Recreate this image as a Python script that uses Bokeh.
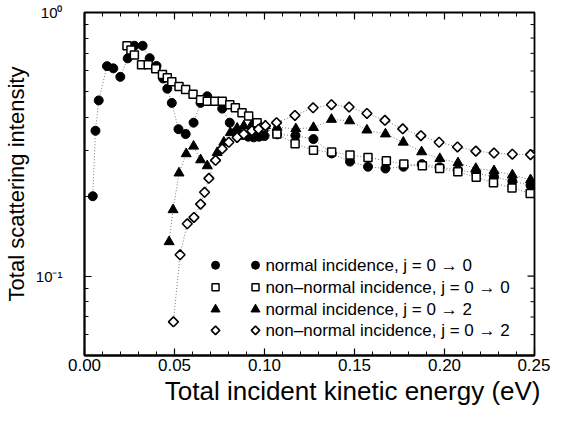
import math
from bokeh.plotting import figure
from bokeh.models import Range1d, FixedTicker, NumeralTickFormatter, Title
from bokeh.core.properties import value
from bokeh.embed import file_html
from bokeh.resources import INLINE

# ---------------- data ----------------
# normal incidence, j = 0 -> 0  (filled circles)
x_n00 = [0.0046, 0.0061, 0.0079, 0.0125, 0.0160, 0.0199, 0.0240, 0.0277, 0.0323, 0.0362,
         0.0400, 0.0437, 0.0460, 0.0485, 0.0522, 0.0562, 0.0606, 0.0645, 0.0682, 0.0765,
         0.0807, 0.0840, 0.0880, 0.0910, 0.0940, 0.0970, 0.1000, 0.1070, 0.1172, 0.1272,
         0.1373, 0.1475, 0.1575, 0.1672, 0.1772, 0.1874, 0.1973, 0.2074, 0.2176, 0.2275,
         0.2377, 0.2478]
y_n00 = [0.201, 0.356, 0.464, 0.626, 0.614, 0.570, 0.670, 0.748, 0.748, 0.671,
         0.627, 0.562, 0.514, 0.454, 0.361, 0.346, 0.382, 0.454, 0.481, 0.432,
         0.382, 0.352, 0.343, 0.338, 0.336, 0.338, 0.340, 0.345, 0.341, 0.331,
         0.292, 0.272, 0.260, 0.256, 0.260, 0.266, 0.259, 0.253, 0.246, 0.238,
         0.229, 0.221]

# non-normal incidence, j = 0 -> 0  (open squares)
x_nn00 = [0.0236, 0.0258, 0.0277, 0.0317, 0.0354, 0.0396, 0.0433, 0.0460, 0.0485, 0.0525,
          0.0562, 0.0603, 0.0645, 0.0682, 0.0724, 0.0765, 0.0807, 0.0838, 0.0875, 0.0912,
          0.0959, 0.0996, 0.1069, 0.1170, 0.1272, 0.1373, 0.1475, 0.1575, 0.1677, 0.1774,
          0.1877, 0.1973, 0.2074, 0.2176, 0.2272, 0.2375, 0.2476]
y_nn00 = [0.748, 0.720, 0.690, 0.634, 0.634, 0.612, 0.582, 0.565, 0.546, 0.524,
          0.510, 0.490, 0.467, 0.461, 0.461, 0.461, 0.447, 0.435, 0.417, 0.405,
          0.382, 0.366, 0.346, 0.318, 0.300, 0.296, 0.288, 0.282, 0.274, 0.266,
          0.262, 0.256, 0.249, 0.237, 0.226, 0.216, 0.206]

# normal incidence, j = 0 -> 2  (filled triangles)
x_n02 = [0.0470, 0.0492, 0.0525, 0.0565, 0.0606, 0.0645, 0.0682, 0.0737, 0.0774, 0.0810,
         0.0848, 0.0885, 0.0930, 0.0970, 0.1005, 0.1070, 0.1174, 0.1272, 0.1372, 0.1473,
         0.1569, 0.1672, 0.1771, 0.1873, 0.1974, 0.2075, 0.2174, 0.2275, 0.2377, 0.2478]
y_n02 = [0.135, 0.1785, 0.246, 0.291, 0.311, 0.276, 0.262, 0.294, 0.322, 0.350,
         0.364, 0.371, 0.376, 0.376, 0.372, 0.367, 0.362, 0.366, 0.393, 0.388,
         0.358, 0.346, 0.322, 0.296, 0.279, 0.269, 0.256, 0.251, 0.242, 0.232]

# non-normal incidence, j = 0 -> 2  (open diamonds)
x_nn02 = [0.0494, 0.0531, 0.0571, 0.0608, 0.0645, 0.0667, 0.0691, 0.0728, 0.0765, 0.0802,
          0.0848, 0.0885, 0.0930, 0.0967, 0.1005, 0.1067, 0.1169, 0.1270, 0.1372, 0.1470,
          0.1569, 0.1669, 0.1768, 0.1869, 0.1970, 0.2072, 0.2174, 0.2275, 0.2377, 0.2478]
y_nn02 = [0.0671, 0.1205, 0.158, 0.167, 0.1875, 0.208, 0.235, 0.275, 0.304, 0.322,
          0.336, 0.346, 0.356, 0.361, 0.372, 0.382, 0.407, 0.435, 0.447, 0.438,
          0.414, 0.390, 0.362, 0.341, 0.322, 0.309, 0.298, 0.293, 0.290, 0.289]

legend_labels = ["normal incidence, j = 0 \u2192 0",
                 "non\u2013normal incidence, j = 0 \u2192 0",
                 "normal incidence, j = 0 \u2192 2",
                 "non\u2013normal incidence, j = 0 \u2192 2"]

x_major_ticks = [0.0, 0.05, 0.10, 0.15, 0.20, 0.25]
x_minor_ticks = [0.01, 0.02, 0.03, 0.04, 0.06, 0.07, 0.08, 0.09, 0.11, 0.12, 0.13, 0.14,
                 0.16, 0.17, 0.18, 0.19, 0.21, 0.22, 0.23, 0.24]
y_major_ticks = [0.1, 1.0]
y_minor_ticks = [0.05, 0.06, 0.07, 0.08, 0.09, 0.2, 0.3, 0.4, 0.5, 0.6, 0.7, 0.8, 0.9]
y_tick_labels = {0.1: "10\u207b\u00b9", 1.0: "10\u2070"}
x_title = "Total incident kinetic energy (eV)"
y_title = "Total scattering intensity"

# ---------------- layout ----------------
FONT = "Liberation Sans"
W, H = 550, 405
BL, BR, BT, BB = 82, 16, 12, 47
X0, X1 = 0.0, 0.25
Y0, Y1 = 0.05, 1.0
MAJ_LEN, MIN_LEN = 7, 4
EST_FRAME_W = W - BL - BR
EST_FRAME_H = H - BT - 51
DECADE_PX = EST_FRAME_H / math.log10(Y1 / Y0)

LEG_X1, LEG_X2, LEG_TX = 0.0728, 0.0950, 0.1005
LEG_ROW_PX = [252, 274, 296, 317]   # pixels below the frame top


def y_at_px_below_top(n):
    return Y1 * 10 ** (-n / DECADE_PX)


def x_at_px_left_of_right(n):
    return X1 - n * (X1 - X0) / EST_FRAME_W


p = figure(width=W, height=H, x_range=Range1d(X0, X1), y_range=Range1d(Y0, Y1),
           y_axis_type="log", output_backend="svg", toolbar_location=None,
           min_border_left=BL, min_border_right=BR, min_border_top=BT, min_border_bottom=BB)
p.background_fill_color = "white"
p.border_fill_color = "white"
p.outline_line_color = "black"
p.outline_line_width = 1.8
p.grid.visible = False

x_ticker = FixedTicker(ticks=x_major_ticks, minor_ticks=x_minor_ticks)
y_ticker = FixedTicker(ticks=y_major_ticks, minor_ticks=y_minor_ticks)


def style_axis(ax):
    ax.axis_line_color = "black"
    ax.axis_line_width = 1.8
    ax.major_tick_in = MAJ_LEN
    ax.major_tick_out = 0
    ax.minor_tick_in = MIN_LEN
    ax.minor_tick_out = 0
    ax.major_tick_line_width = 1.2
    ax.minor_tick_line_width = 1.0
    ax.major_tick_line_color = "black"
    ax.minor_tick_line_color = "black"


xa = p.xaxis[0]
xa.ticker = x_ticker
xa.formatter = NumeralTickFormatter(format="0.00")
style_axis(xa)
xa.major_label_text_font = FONT
xa.major_label_text_font_size = "17px"
xa.major_label_text_color = "black"
xa.major_label_standoff = 3

ya = p.yaxis[0]
ya.ticker = y_ticker
style_axis(ya)
ya.major_label_overrides = y_tick_labels
ya.major_label_text_font = FONT
ya.major_label_text_font_size = "15px"
ya.major_label_text_color = "black"
ya.major_label_standoff = 22
ya.axis_label = y_title
ya.axis_label_text_font = FONT
ya.axis_label_text_font_size = "22px"
ya.axis_label_text_font_style = "normal"
ya.axis_label_text_color = "black"
ya.axis_label_standoff = 4

# x-axis title: right-aligned under the frame, as in the original
p.add_layout(Title(text=x_title, align="right", text_font=FONT, text_font_size="26px",
                   text_font_style="normal", text_color="black", standoff=0, offset=-6),
             "below")

# mirrored inward ticks on the top and right frame edges
TICK = dict(line_color="black")
p.segment(x0=x_major_ticks, y0=[Y1] * len(x_major_ticks), x1=x_major_ticks,
          y1=[y_at_px_below_top(MAJ_LEN)] * len(x_major_ticks), line_width=1.2, **TICK)
p.segment(x0=x_minor_ticks, y0=[Y1] * len(x_minor_ticks), x1=x_minor_ticks,
          y1=[y_at_px_below_top(MIN_LEN)] * len(x_minor_ticks), line_width=1.0, **TICK)
p.segment(x0=[X1] * len(y_major_ticks), y0=y_major_ticks,
          x1=[x_at_px_left_of_right(MAJ_LEN)] * len(y_major_ticks), y1=y_major_ticks,
          line_width=1.2, **TICK)
p.segment(x0=[X1] * len(y_minor_ticks), y0=y_minor_ticks,
          x1=[x_at_px_left_of_right(MIN_LEN)] * len(y_minor_ticks), y1=y_minor_ticks,
          line_width=1.0, **TICK)

# ---------------- series ----------------
LINE = dict(line_color="#555555", line_width=0.8, line_dash="1 2")
p.line(x_n00, y_n00, **LINE)
p.line(x_nn00, y_nn00, **LINE)
p.line(x_n02, y_n02, **LINE)
p.line(x_nn02, y_nn02, **LINE)

CIRC = dict(marker="circle", size=9, fill_color="black", line_color="black")
SQR = dict(marker="square", size=8, fill_color="white", line_color="black", line_width=1.5)
TRI = dict(marker="triangle", size=10, fill_color="black", line_color="black")
DIA = dict(marker="square", angle=math.pi / 4, size=7, fill_color="white",
           line_color="black", line_width=1.6)

p.scatter(x_n00, y_n00, **CIRC)
p.scatter(x_n02, y_n02, **TRI)
p.scatter(x_nn00, y_nn00, **SQR)
p.scatter(x_nn02, y_nn02, **DIA)

# ---------------- legend (drawn by hand, two symbol columns) ----------------
leg_rows = [y_at_px_below_top(n) for n in LEG_ROW_PX]
for row_y, style in zip(leg_rows, [CIRC, SQR, TRI, DIA]):
    st = dict(style)
    st["size"] = st["size"] - 1
    p.scatter([LEG_X1, LEG_X2], [row_y, row_y], **st)
p.text(x=[LEG_TX] * 4, y=leg_rows, text=legend_labels, text_font=value(FONT),
       text_font_size="17px", text_baseline="middle", text_align="left", text_color="black")

open("out.html", "w").write(file_html(p, INLINE))
